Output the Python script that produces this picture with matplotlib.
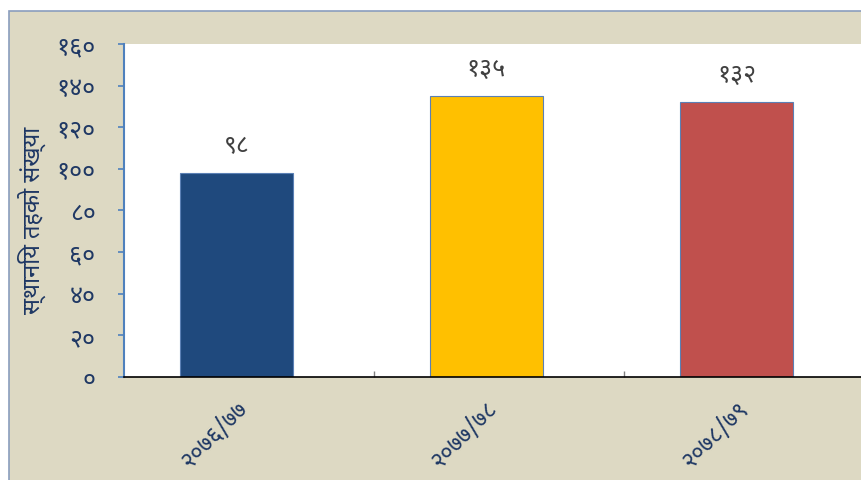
import matplotlib
matplotlib.use("Agg")
import matplotlib.pyplot as plt
import numpy as np
from matplotlib.patches import Rectangle

# data
categories = ["२०७६/७७", "२०७७/७८", "२०७८/७९"]
values = [98, 135, 132]
value_labels = ["९८", "१३५", "१३२"]
yticks = [0, 20, 40, 60, 80, 100, 120, 140, 160]
ytick_labels = ["०", "२०", "४०", "६०", "८०", "१००", "१२०", "१४०", "१६०"]
ylabel = "स्थानिय तहको संख्या"
colors = ["#1F497D", "#FFC000", "#C0504D"]

fonts = ["Noto Sans Devanagari", "DejaVu Sans"]
navy = "#1F3864"

fig = plt.figure(figsize=(8.62, 4.81), dpi=100, facecolor="white")
# tan chart area with thin border
fig.patches.append(Rectangle((9 / 862, -0.01), 1, (481 - 12) / 481 + 0.01,
                             transform=fig.transFigure, facecolor="#DDD9C3",
                             edgecolor="#8A9DBD", linewidth=1.2, zorder=-10))

ax = fig.add_axes([124 / 862, 103 / 481, 750 / 862, 333 / 481])
ax.set_facecolor("white")

# bars sit a little left of the category centre, like in the original
xpos = np.arange(len(categories)) - 0.05
ax.bar(xpos, values, width=0.45, color=colors, edgecolor="#5B80B5", linewidth=0.8, zorder=2)

for i, v in enumerate(values):
    ax.annotate(value_labels[i], (xpos[i], v), xytext=(0, 20), textcoords="offset points",
                ha="center", va="center", fontsize=18, color="#404040", family=fonts)

ax.set_xlim(-0.5, 2.5)
ax.set_ylim(0, 160)

ax.set_yticks(yticks)
ax.set_yticklabels(ytick_labels, family=fonts, fontsize=18, color=navy)
ax.tick_params(axis="y", direction="out", length=4.5, width=1.2, color="#4F81BD", pad=16)

ax.set_xticks(xpos)
ax.set_xticklabels(categories, family=fonts, fontsize=17, color=navy,
                   rotation=45, ha="right", rotation_mode="anchor")
ax.tick_params(axis="x", which="major", length=0, pad=14)
ax.set_xticks([0.5, 1.5], minor=True)
ax.tick_params(axis="x", which="minor", direction="in", length=4, width=1, color="#808080")

ax.set_ylabel(ylabel, family=fonts, fontsize=17, color=navy)
ax.yaxis.set_label_coords(-0.104, 0.474)

ax.spines["top"].set_visible(False)
ax.spines["right"].set_visible(False)
ax.spines["left"].set_color("#4F81BD")
ax.spines["left"].set_linewidth(1.5)
ax.spines["bottom"].set_color("black")
ax.spines["bottom"].set_linewidth(1.2)

fig.savefig("out.png", dpi=100, facecolor=fig.get_facecolor())
